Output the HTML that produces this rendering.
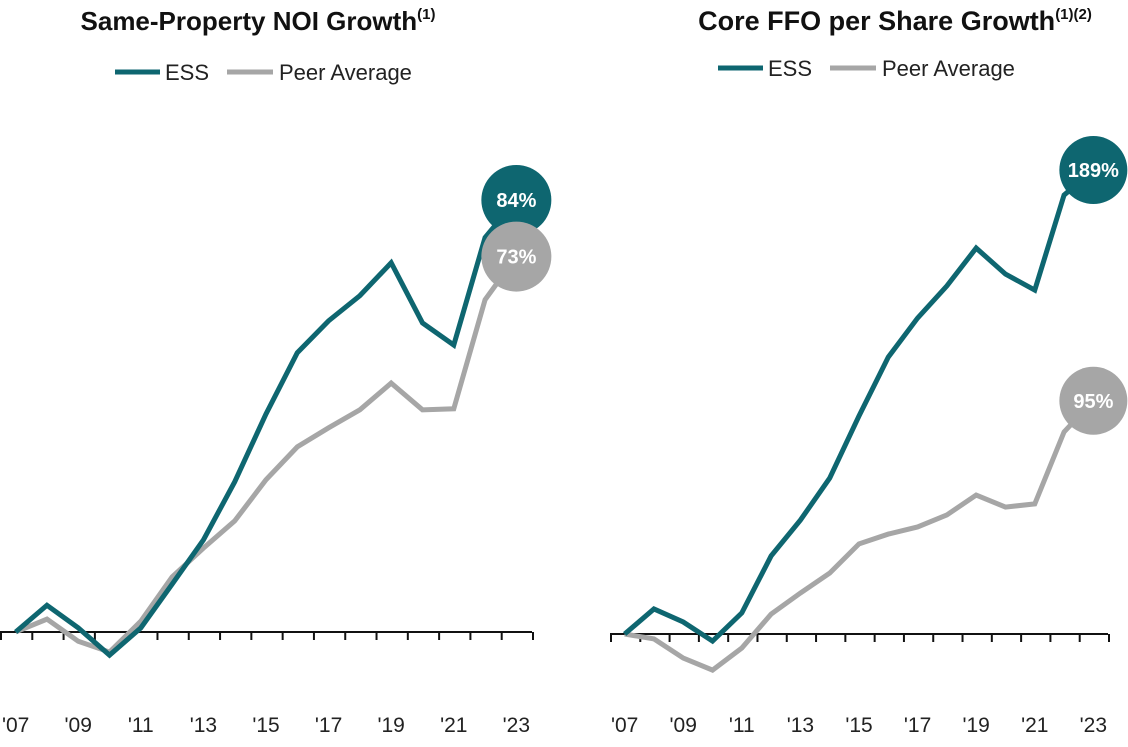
<!DOCTYPE html>
<html><head><meta charset="utf-8"><style>
body{margin:0;background:#fff;width:1128px;height:742px;overflow:hidden;font-family:"Liberation Sans",sans-serif}
</style></head><body>
<svg id="c" width="1128" height="742" xmlns="http://www.w3.org/2000/svg"></svg>
<script>
const years=["'07","'08","'09","'10","'11","'12","'13","'14","'15","'16","'17","'18","'19","'20","'21","'22","'23"];
const tickLabels=["'07","'09","'11","'13","'15","'17","'19","'21","'23"];
const noiEss=[0,5.2,0.8,-4.5,0.8,9.3,17.9,29.2,42.4,54.3,60.5,65.4,71.8,60.1,55.8,76.7,84];
const noiPeer=[0,2.5,-1.8,-3.9,2.1,10.7,16.3,21.6,29.6,36,39.7,43.2,48.4,43.2,43.4,64.6,73];
const ffoEss=[0,10.2,4.9,-2.9,8.6,31.8,46.4,63.5,88.8,112.8,128.7,141.8,157.2,146.6,140.1,178.8,189];
const ffoPeer=[0,-2,-9.8,-14.7,-5.7,8.1,16.7,24.8,36.7,40.7,43.6,48.5,56.6,51.7,53,82.3,95];
const NS="http://www.w3.org/2000/svg",svg=document.getElementById('c');
const TEAL="#0e6670",GRAY="#a6a6a6";
function el(t,a,p){const e=document.createElementNS(NS,t);for(const k in a)e.setAttribute(k,a[k]);(p||svg).appendChild(e);return e;}
function chart(o){
  const g=el('g',{});
  
  
  const n=years.length,bw=(o.x1-o.x0)/n;
  const X=i=>o.x0+bw*(i+0.5), Y=v=>o.zeroY-v*o.ppu;
  const t=el('text',{x:o.tx,y:30,'text-anchor':'middle','font-size':o.tf,'font-weight':'bold',fill:'#111'},g);
  
  t.innerHTML=o.title+'<tspan font-size="15" dy="-11">'+o.sup+'</tspan>';
  const lg=el('g',{},g);
  el('line',{x1:o.lx,x2:o.lx+45,y1:o.ly,y2:o.ly,stroke:TEAL,'stroke-width':5},lg);
  el('text',{x:o.lx+50,y:o.ly+8,'font-size':22,fill:'#222'},lg).textContent='ESS';
  el('line',{x1:o.lx+112,x2:o.lx+158,y1:o.ly,y2:o.ly,stroke:GRAY,'stroke-width':5},lg);
  el('text',{x:o.lx+164,y:o.ly+8,'font-size':22,fill:'#222'},lg).textContent='Peer Average';
  const ax=el('line',{x1:o.x0,x2:o.x1,y1:o.zeroY,y2:o.zeroY,stroke:'#111','stroke-width':2},g);
  
  for(let i=0;i<=n;i++){const x=o.x0+bw*i+1;el('line',{x1:x,x2:x,y1:o.zeroY,y2:o.zeroY+8,stroke:'#111','stroke-width':2},g);}
  years.forEach((y,i)=>{if(tickLabels.includes(y)){const tl=el('text',{x:X(i),y:732,'text-anchor':'middle','font-size':21,fill:'#222'},g);tl.textContent=y;}});
  [[o.peer,GRAY,'peer-line'],[o.ess,TEAL,'ess-line']].forEach(([d,c,nm])=>{
    const p=el('polyline',{points:d.map((v,i)=>X(i)+','+Y(v)).join(' '),fill:'none',stroke:c,'stroke-width':5,'stroke-linejoin':'miter'},g);
    
  });
  [[o.ess,TEAL,'ess-end-label'],[o.peer,GRAY,'peer-end-label']].forEach(([d,c,nm])=>{
    const v=d[n-1],cx=X(n-1),cy=Y(v);
    const cg=el('g',{},g);
    el('circle',{cx:cx,cy:cy,r:o.r,fill:c},cg);
    el('text',{x:cx,y:cy+7,'text-anchor':'middle','font-size':20,'font-weight':'bold',fill:'#fff'},cg).textContent=Math.round(v)+'%';
  });
}
chart({name:'noi-chart',x0:0,x1:532,zeroY:632,ppu:432/84,ess:noiEss,peer:noiPeer,title:'Same-Property NOI Growth',sup:'(1)',tx:258,tf:26,lx:115,ly:72,r:35});
chart({name:'ffo-chart',x0:610,x1:1108,zeroY:634,ppu:464/189,ess:ffoEss,peer:ffoPeer,title:'Core FFO per Share Growth',sup:'(1)(2)',tx:895,tf:27,lx:718,ly:68,r:34});
</script>
</body></html>
